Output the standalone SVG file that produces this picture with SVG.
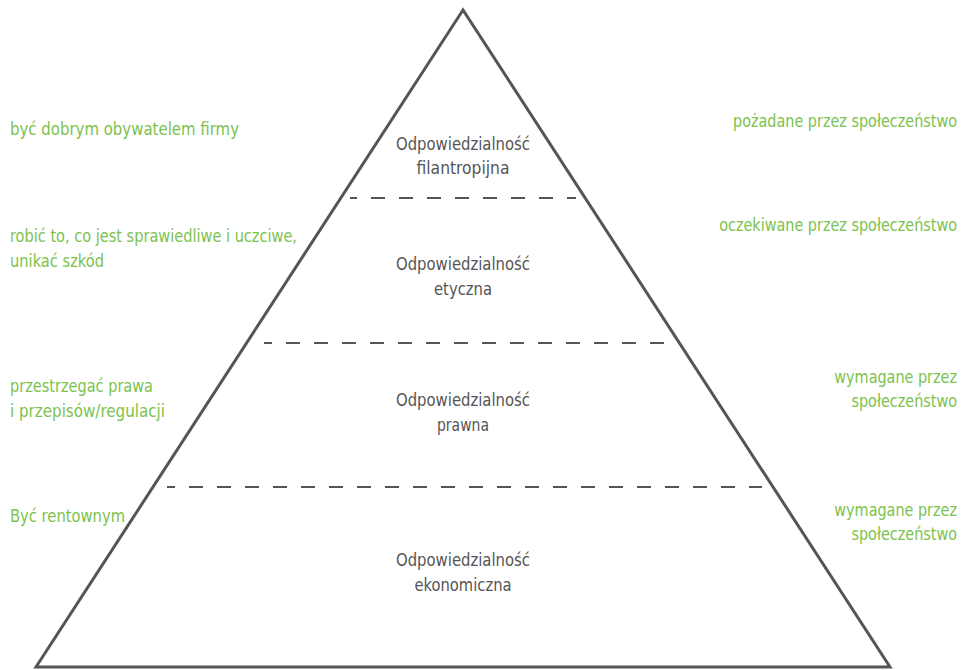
<svg xmlns="http://www.w3.org/2000/svg" width="964" height="670" viewBox="0 0 964 670">
<style>
  text { font-family: "DejaVu Sans Condensed", "DejaVu Sans", sans-serif; font-stretch: condensed; font-size: 18px; }
  .g { fill: #7cc24e; }
  .c { fill: #555555; text-anchor: middle; }
  .r { text-anchor: end; }
  .dash { stroke: #555555; stroke-width: 2; stroke-dasharray: 14 14; fill: none; }
</style>
<rect width="964" height="670" fill="#ffffff"/>
<g id="pyramid">
  <polygon points="463,10 36,667 890,667" fill="none" stroke="#555555" stroke-width="3" stroke-linejoin="miter"/>
</g>
<g id="connectors">
  <line class="dash" x1="350" y1="198" x2="576" y2="198" stroke-dashoffset="7"/>
  <line class="dash" x1="264" y1="343" x2="665" y2="343" stroke-dashoffset="6"/>
  <line class="dash" x1="167" y1="487" x2="762" y2="487" stroke-dashoffset="6"/>
</g>
<g id="level-filantropijna">
  <text class="c" x="463" y="150" textLength="134" lengthAdjust="spacingAndGlyphs">Odpowiedzialność</text>
  <text class="c" x="463" y="174" textLength="93" lengthAdjust="spacingAndGlyphs">filantropijna</text>
</g>
<g id="level-etyczna">
  <text class="c" x="463" y="270" textLength="134" lengthAdjust="spacingAndGlyphs">Odpowiedzialność</text>
  <text class="c" x="463" y="295" textLength="58" lengthAdjust="spacingAndGlyphs">etyczna</text>
</g>
<g id="level-prawna">
  <text class="c" x="463" y="406" textLength="134" lengthAdjust="spacingAndGlyphs">Odpowiedzialność</text>
  <text class="c" x="463" y="431" textLength="52" lengthAdjust="spacingAndGlyphs">prawna</text>
</g>
<g id="level-ekonomiczna">
  <text class="c" x="463" y="566" textLength="134" lengthAdjust="spacingAndGlyphs">Odpowiedzialność</text>
  <text class="c" x="463" y="591" textLength="97" lengthAdjust="spacingAndGlyphs">ekonomiczna</text>
</g>
<g id="left-labels">
  <text class="g" x="10" y="135" textLength="229" lengthAdjust="spacingAndGlyphs">być dobrym obywatelem firmy</text>
  <text class="g" x="10" y="242" textLength="287" lengthAdjust="spacingAndGlyphs">robić to, co jest sprawiedliwe i uczciwe,</text>
  <text class="g" x="10" y="267" textLength="94" lengthAdjust="spacingAndGlyphs">unikać szkód</text>
  <text class="g" x="10" y="392" textLength="143" lengthAdjust="spacingAndGlyphs">przestrzegać prawa</text>
  <text class="g" x="10" y="417" textLength="155" lengthAdjust="spacingAndGlyphs">i przepisów/regulacji</text>
  <text class="g" x="10" y="522" textLength="115" lengthAdjust="spacingAndGlyphs">Być rentownym</text>
</g>
<g id="right-labels">
  <g transform="translate(957,127) scale(0.89,1)"><text class="g r" x="0" y="0">pożadane przez społeczeństwo</text></g>
  <g transform="translate(957,231) scale(0.89,1)"><text class="g r" x="0" y="0">oczekiwane przez społeczeństwo</text></g>
  <g transform="translate(957,383) scale(0.89,1)"><text class="g r" x="0" y="0">wymagane przez</text></g>
  <g transform="translate(957,407) scale(0.89,1)"><text class="g r" x="0" y="0">społeczeństwo</text></g>
  <g transform="translate(957,516) scale(0.89,1)"><text class="g r" x="0" y="0">wymagane przez</text></g>
  <g transform="translate(957,540) scale(0.89,1)"><text class="g r" x="0" y="0">społeczeństwo</text></g>
</g>
</svg>
